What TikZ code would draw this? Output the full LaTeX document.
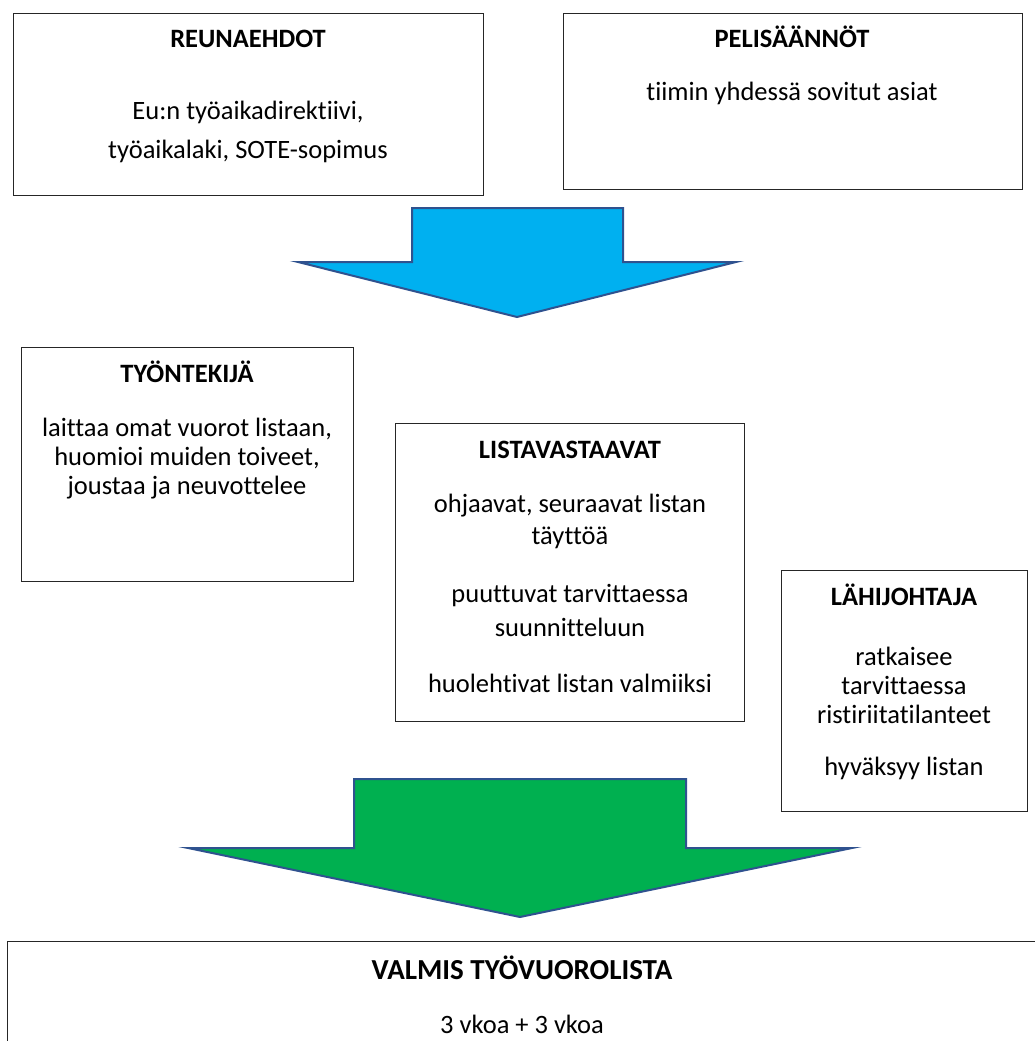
\documentclass[tikz,border=0pt]{standalone}
\usepackage{fontspec}
\setmainfont[Ligatures=NoCommon]{Carlito}
\usepackage{tikz}
\usetikzlibrary{positioning}
\usepackage{xcolor}
\definecolor{skyfill}{HTML}{00B0F0}
\definecolor{grassfill}{HTML}{00B050}
\definecolor{arrowline}{HTML}{2F528F}

\begin{document}
\begin{tikzpicture}[x=1pt,y=-1pt,
    every node/.style={font=\fontsize{26.5}{32}\selectfont},
    box/.style={draw=black!85,line width=1.3pt,inner sep=0pt,anchor=north west},
    head/.style={font=\fontsize{26.5}{32}\selectfont\bfseries,anchor=base},
    body/.style={anchor=base},
    bigarrow/.style={draw=arrowline,line width=2pt,line join=miter},
  ]
  \clip (0,0) rectangle (1035,1041);
  % top row
  \node[box,minimum width=470,minimum height=182] (reuna) at (13,13) {};
  \node[head] (reunah) at (248,48) {REUNAEHDOT};
  \node[body] (reuna1) at (248,119) {Eu:n työaikadirektiivi,};
  \node[body] (reuna2) at (248,158) {työaikalaki, SOTE-sopimus};

  \node[box,minimum width=459,minimum height=176] (peli) at (563,13) {};
  \node[head] (pelih) at (792,48) {PELISÄÄNNÖT};
  \node[body] (peli1) at (792,100) {tiimin yhdessä sovitut asiat};

  \draw[bigarrow,fill=skyfill] (412,208) -- (623,208) -- (623,262) -- (736,262)
    -- (517,317) -- (298,262) -- (412,262) -- cycle;

  % middle row
  \node[box,minimum width=332,minimum height=234] (tyon) at (21,347) {};
  \node[head] (tyonh) at (187,382) {TYÖNTEKIJÄ};
  \node[body] (tyon1) at (187,436) {laittaa omat vuorot listaan,};
  \node[body] (tyon2) at (187,465) {huomioi muiden toiveet,};
  \node[body] (tyon3) at (187,494) {joustaa ja neuvottelee};

  \node[box,minimum width=349,minimum height=298] (lista) at (395,423) {};
  \node[head] (listah) at (570,458) {LISTAVASTAAVAT};
  \node[body] (lista1) at (570,512) {ohjaavat, seuraavat listan};
  \node[body] (lista2) at (570,544) {täyttöä};
  \node[body] (lista3) at (570,602) {puuttuvat tarvittaessa};
  \node[body] (lista4) at (570,636) {suunnitteluun};
  \node[body] (lista5) at (570,692) {huolehtivat listan valmiiksi};

  \node[box,minimum width=246,minimum height=241] (lahi) at (781,570) {};
  \node[head] (lahih) at (904,605) {LÄHIJOHTAJA};
  \node[body] (lahi1) at (904,665) {ratkaisee};
  \node[body] (lahi2) at (904,694) {tarvittaessa};
  \node[body] (lahi3) at (904,723) {ristiriitatilanteet};
  \node[body] (lahi4) at (904,775) {hyväksyy listan};

  \draw[bigarrow,fill=grassfill] (354,779) -- (686,779) -- (686,848) -- (852,848)
    -- (520,917) -- (188,848) -- (354,848) -- cycle;

  % bottom
  \node[box,minimum width=1060,minimum height=160] (valmis) at (7,941) {};
  \node[head,font=\fontsize{29}{35}\selectfont\bfseries] (valmish) at (522,979) {VALMIS TYÖVUOROLISTA};
  \node[body] (valmis1) at (522,1033) {3 vkoa + 3 vkoa};
\end{tikzpicture}
\end{document}
